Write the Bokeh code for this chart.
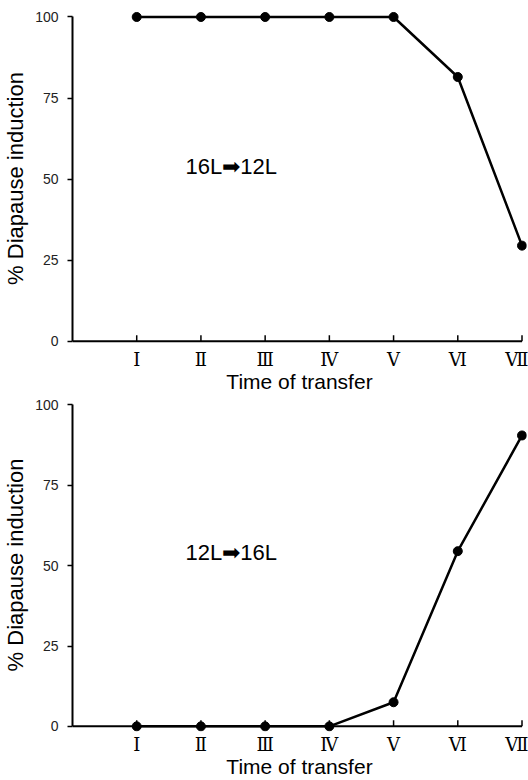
from bokeh.plotting import figure
from bokeh.layouts import column
from bokeh.models import Range1d, FixedTicker, Label
from bokeh.embed import file_html
from bokeh.resources import INLINE

# ---- data ----
stages = [1, 2, 3, 4, 5, 6, 7]
stage_labels = ["Ⅰ", "Ⅱ", "Ⅲ", "Ⅳ", "Ⅴ", "Ⅵ", "Ⅶ"]
long_to_short = [100, 100, 100, 100, 100, 81.5, 29.5]   # 16L -> 12L
short_to_long = [0, 0, 0, 0, 7.5, 54.5, 90.5]           # 12L -> 16L
y_ticks = [0, 25, 50, 75, 100]
panel_titles = ["16L➡12L", "12L➡16L"]

FONT = "Liberation Sans"
TICK_LEN = 1.9  # inward x-tick length, in y units (~6 px)


def make_panel(values, label, height, top_border):
    p = figure(width=528, height=height, output_backend="svg", toolbar_location=None,
               x_range=Range1d(0, 7.07), y_range=Range1d(-1.6, 102),
               min_border_left=71, min_border_right=2, min_border_top=top_border,
               min_border_bottom=0)
    p.outline_line_color = None
    p.grid.visible = False
    p.background_fill_color = "white"
    p.border_fill_color = "white"

    # x axis line at y = 0 with inward ticks
    p.segment(x0=[0], y0=[0], x1=[max(stages)], y1=[0], line_color="black", line_width=2)
    p.segment(x0=stages, y0=[0] * len(stages), x1=stages, y1=[TICK_LEN] * len(stages),
              line_color="black", line_width=1.5)

    p.line(stages, values, line_color="black", line_width=2.5)
    p.scatter(stages, values, size=9, fill_color="black", line_color="black")

    xa = p.xaxis[0]
    xa.ticker = FixedTicker(ticks=stages)
    xa.major_label_overrides = {s: l for s, l in zip(stages, stage_labels)}
    xa.axis_line_color = None
    xa.major_tick_line_color = None
    xa.major_tick_in = 0
    xa.major_tick_out = 0
    xa.minor_tick_line_color = None
    xa.major_label_text_font = "DejaVu Serif"
    xa.major_label_text_font_size = "18px"
    xa.major_label_text_color = "black"
    xa.major_label_standoff = 2
    xa.axis_label = "Time of transfer"
    xa.axis_label_text_font = FONT
    xa.axis_label_text_font_style = "normal"
    xa.axis_label_text_font_size = "21px"
    xa.axis_label_text_color = "black"
    xa.axis_label_standoff = -3

    ya = p.yaxis[0]
    ya.bounds = (0, 100)
    ya.ticker = FixedTicker(ticks=y_ticks)
    ya.major_tick_in = 0
    ya.major_tick_out = 5
    ya.minor_tick_line_color = None
    ya.axis_line_width = 2
    ya.axis_line_color = "black"
    ya.major_tick_line_width = 1.5
    ya.major_label_text_font = FONT
    ya.major_label_text_font_size = "14px"
    ya.major_label_text_color = "#222222"
    ya.major_label_standoff = 9
    ya.axis_label = "% Diapause induction"
    ya.axis_label_text_font = FONT
    ya.axis_label_text_font_style = "normal"
    ya.axis_label_text_font_size = "22px"
    ya.axis_label_text_color = "black"
    ya.axis_label_standoff = 4

    p.add_layout(Label(x=1.76, y=54, text=label, text_font=FONT, text_font_size="22px",
                       text_baseline="middle", text_align="left", text_color="black"))
    return p


top = make_panel(long_to_short, panel_titles[0], 395, 10)
bottom = make_panel(short_to_long, panel_titles[1], 385, 3)

layout = column(top, bottom, spacing=0)
open("out.html", "w").write(file_html(layout, INLINE))
